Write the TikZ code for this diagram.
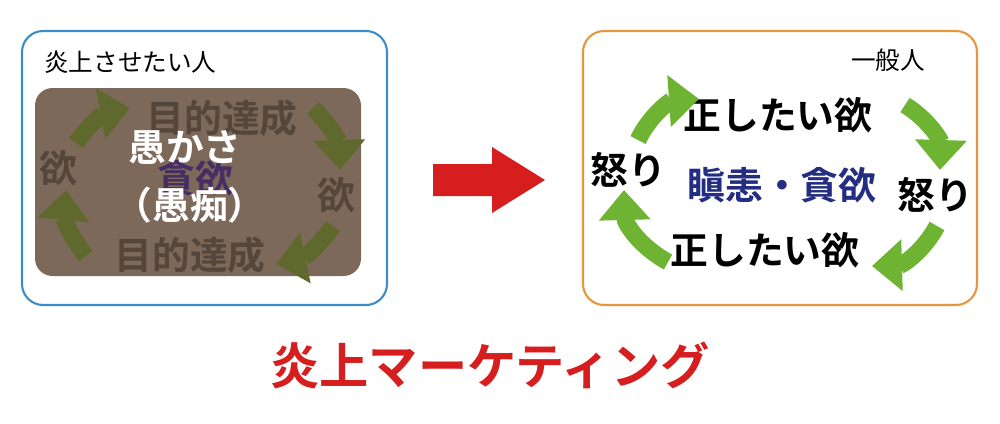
\documentclass[tikz,border=0pt]{standalone}
\usepackage{fontspec}
\newfontfamily\jpbold{Noto Sans CJK JP Bold}
\newfontfamily\jp{Noto Sans CJK JP}
\usetikzlibrary{arrows.meta,positioning}
\definecolor{boxblue}{RGB}{60,140,200}
\definecolor{boxorange}{RGB}{230,150,60}
\definecolor{brownfill}{RGB}{125,105,90}
\definecolor{olivearrow}{RGB}{95,105,45}
\definecolor{greenarrow}{RGB}{110,180,50}
\definecolor{darktext}{RGB}{85,70,60}
\definecolor{navytext}{RGB}{35,45,130}
\definecolor{purpletext}{RGB}{70,45,100}
\definecolor{redtext}{RGB}{215,30,30}
\tikzset{
  bigword/.style={font=\jpbold\fontsize{21.5}{23}\selectfont, inner sep=0pt},
  cyclearrow/.style={line width=3.4mm, -{Triangle[length=6mm,width=10mm]}},
}
\begin{document}
\begin{tikzpicture}[x=0.02cm,y=-0.02cm]
\useasboundingbox (0,0) rectangle (1000,423);
\fill[white] (0,0) rectangle (1000,423);
% left box
\draw[boxblue,line width=1.2pt,rounded corners=12pt] (22,31) rectangle (387,305);
\node[font=\jp\fontsize{14}{16}\selectfont, anchor=west] (who) at (38,62) {炎上させたい人};
\fill[brownfill,rounded corners=10pt] (35,88) rectangle (361,276);
\node[bigword, text=purpletext] (greed) at (195,178) {貪欲};
\node[bigword, text=darktext] (lgoaltop) at (222,118) {目的達成};
\node[bigword, text=darktext] (lwantr) at (336,195) {欲};
\node[bigword, text=darktext] (lgoalbot) at (190,255) {目的達成};
\node[bigword, text=darktext] (lwantl) at (58,168) {欲};
\node[bigword, text=white] (folly) at (185,148) {愚かさ};
\node[bigword, text=white] (follyk) at (190,205) {（愚痴）};
\draw[cyclearrow,olivearrow] (76,143) to[bend left=22] (130,108);
\draw[cyclearrow,olivearrow] (313,108) to[bend left=22] (340,170);
\draw[cyclearrow,olivearrow] (333,226) to[bend left=22] (276,264);
\draw[cyclearrow,olivearrow] (86,256) to[bend left=22] (66,190);
% red arrow
\fill[redtext] (433,164) -- (492,164) -- (492,147) -- (545,180) -- (492,213) -- (492,196) -- (433,196) -- cycle;
% right box
\draw[boxorange,line width=1.2pt,rounded corners=12pt] (583,31) rectangle (977,305);
\node[font=\jp\fontsize{14}{16}\selectfont] (public) at (888,60) {一般人};
\node[bigword] (rightop) at (778,115) {正したい欲};
\node[bigword] (angerr) at (935,195) {怒り};
\node[bigword] (rightbot) at (765,250) {正したい欲};
\node[bigword] (angerl) at (628,170) {怒り};
\node[bigword, text=navytext] (rage) at (782,185) {瞋恚・貪欲};
\draw[cyclearrow,greenarrow] (638,140) to[bend left=30] (699,99);
\draw[cyclearrow,greenarrow] (905,105) to[bend left=30] (940,170);
\draw[cyclearrow,greenarrow] (937,226) to[bend left=30] (872,266);
\draw[cyclearrow,greenarrow] (668,262) to[bend left=30] (624,190);
% title
\node[font=\jpbold\fontsize{28}{30}\selectfont, text=redtext] (title) at (490,365) {炎上マーケティング};
\end{tikzpicture}
\end{document}
